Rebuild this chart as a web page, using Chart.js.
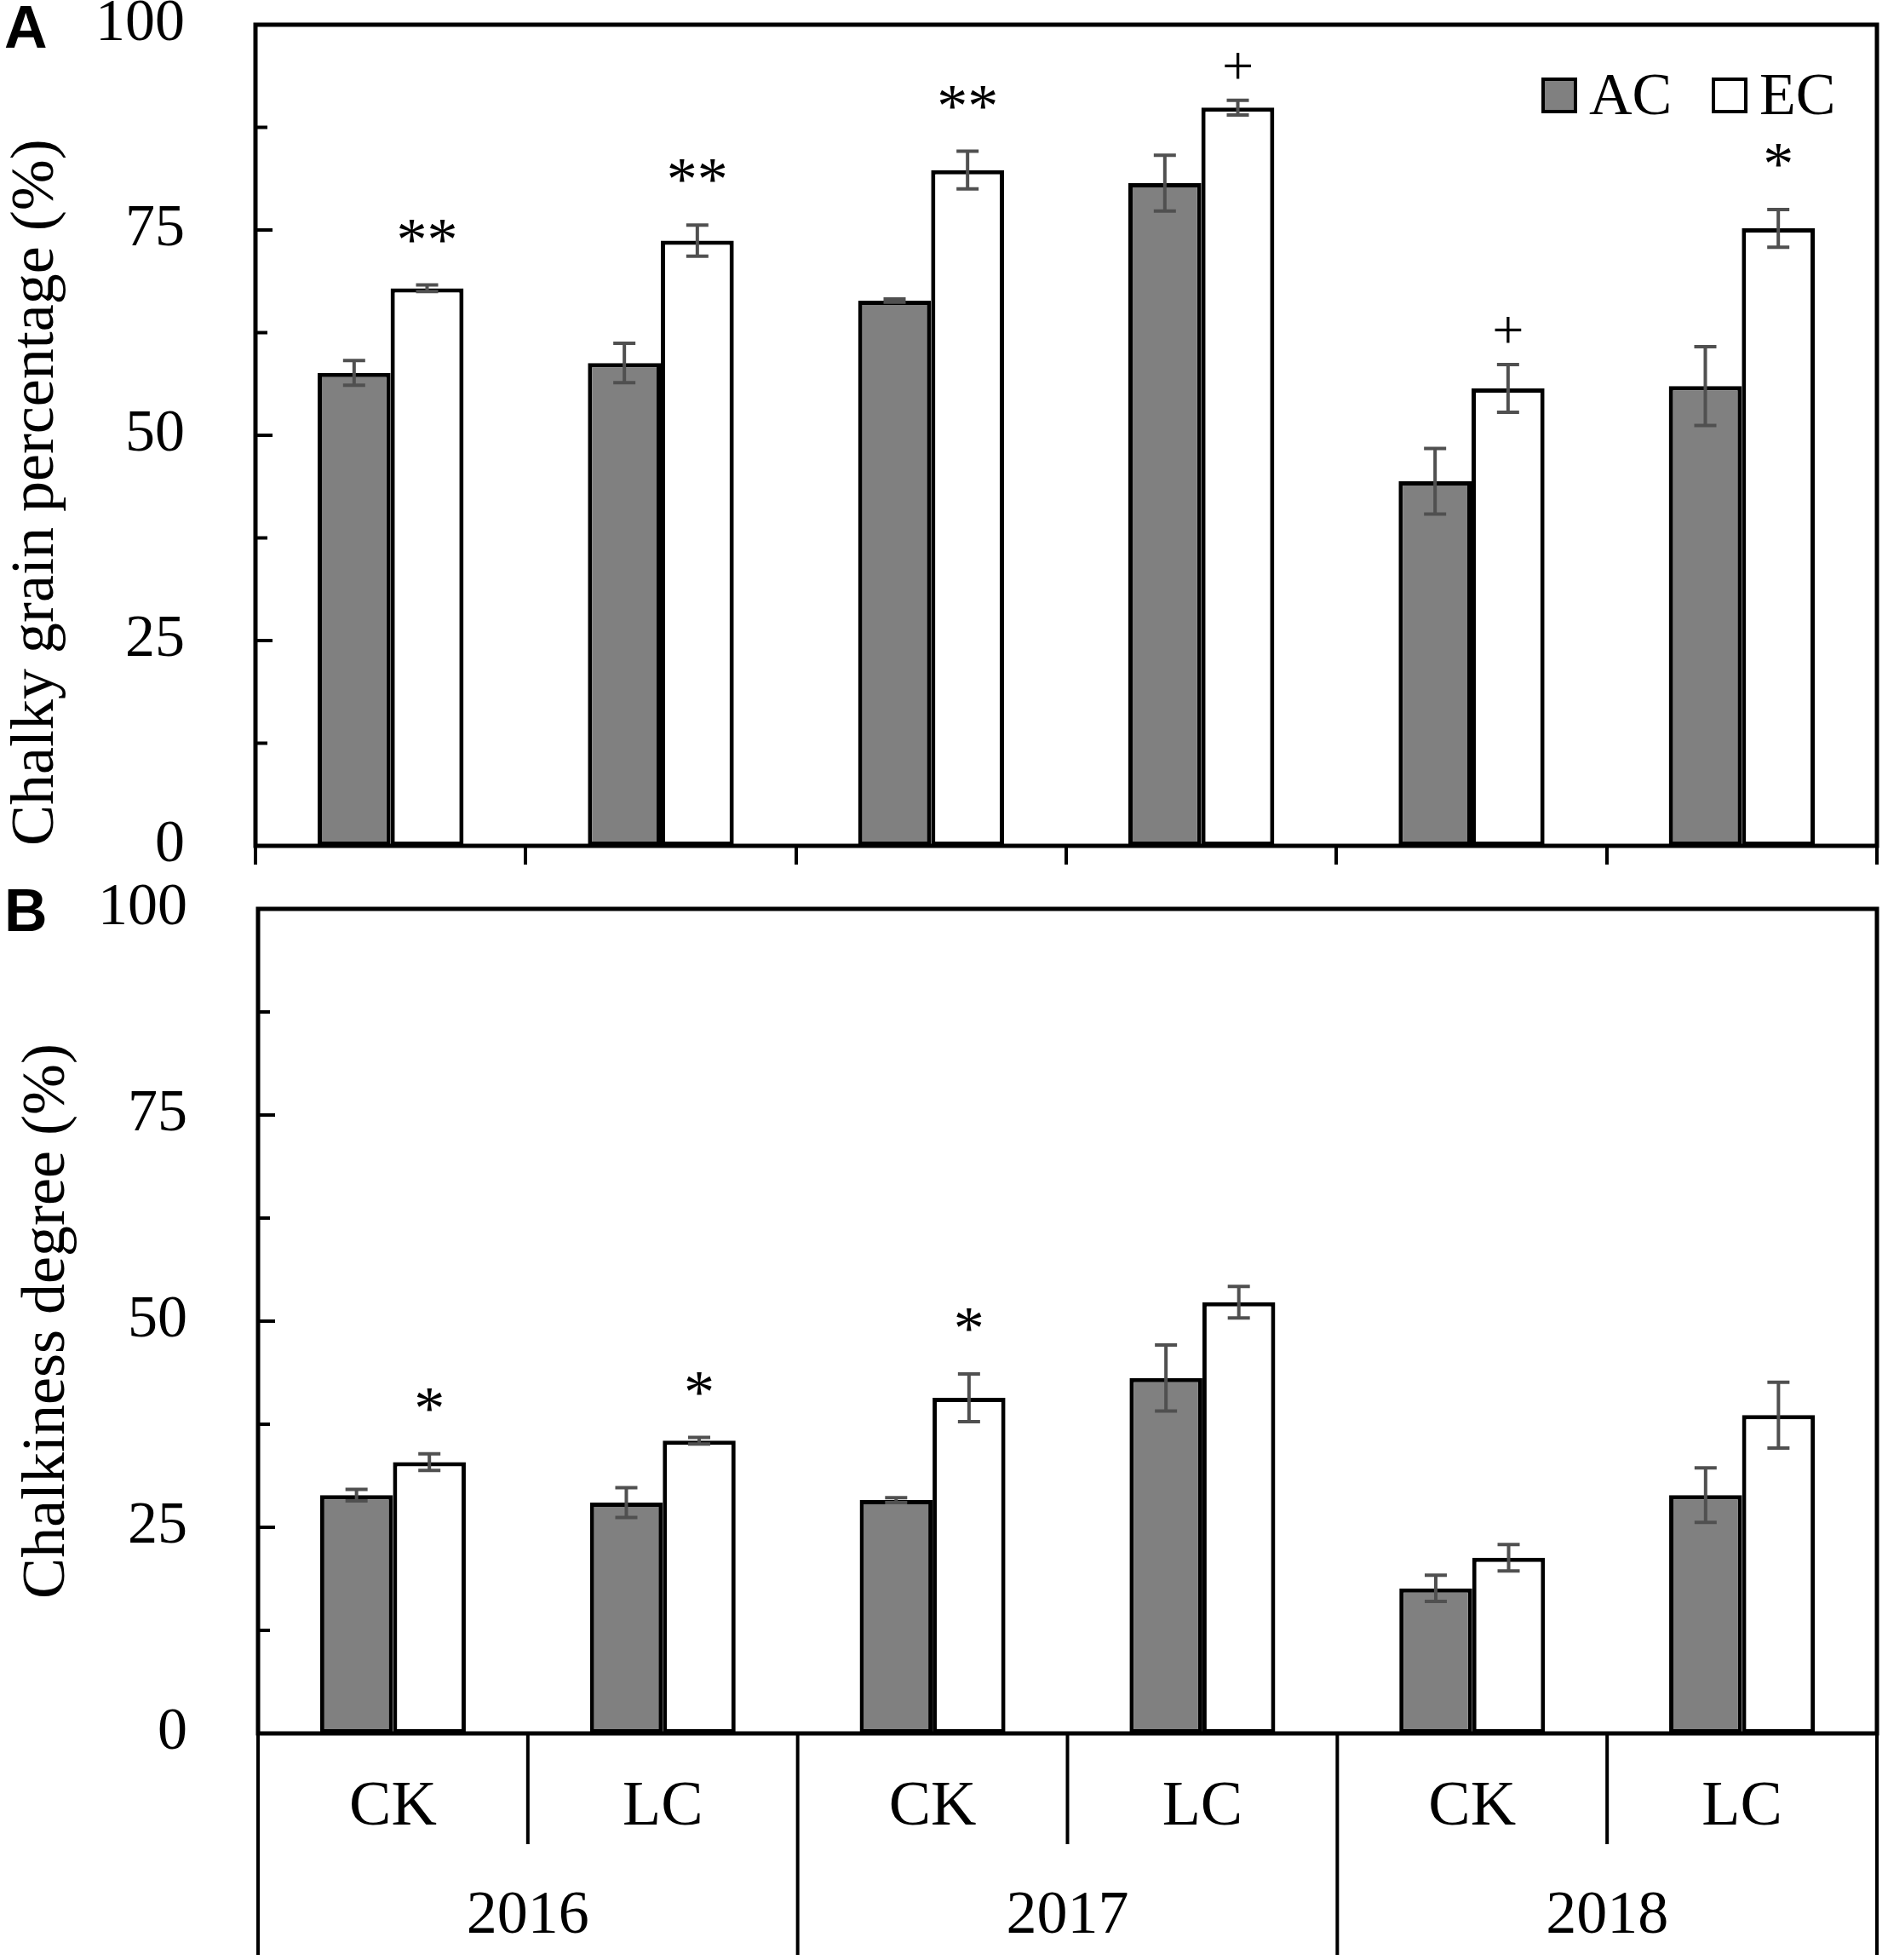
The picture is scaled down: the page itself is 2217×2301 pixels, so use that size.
<!DOCTYPE html>
<html lang="en">
<head>
  <meta charset="UTF-8" />
  <title>Chalky grain percentage and chalkiness degree</title>
  <script src="https://cdn.jsdelivr.net/npm/chart.js"></script>
  <style>
    body { margin: 0; background: #fff; }
    canvas { position: absolute; left: 0; }
  </style>
</head>
<body>
  <canvas id="chartA" width="2217" height="1035" style="top:0"></canvas>
  <canvas id="chartB" width="2217" height="1266" style="top:1035px"></canvas>

  <script>
    // categories and groups
    const categories = ["CK", "LC", "CK", "LC", "CK", "LC"];
    const years = ["2016", "2017", "2018"];
    const seriesNames = ["AC", "EC"];

    // panel A: chalky grain percentage (%)
    const acA = [57.6, 58.8, 66.4, 80.7, 44.4, 56.0];
    const acAErr = [1.5, 2.4, 0.2, 3.4, 4.0, 4.8];
    const ecA = [67.9, 73.7, 82.3, 89.9, 55.7, 75.2];
    const ecAErr = [0.4, 1.9, 2.3, 0.9, 2.9, 2.3];
    const sigA = ["**", "**", "**", "+", "+", "*"];

    // panel B: chalkiness degree (%)
    const acB = [28.9, 28.0, 28.3, 43.1, 17.6, 28.9];
    const acBErr = [0.7, 1.8, 0.3, 4.0, 1.6, 3.3];
    const ecB = [32.9, 35.5, 40.7, 52.3, 21.3, 38.6];
    const ecBErr = [1.0, 0.4, 2.9, 1.9, 1.6, 4.0];
    const sigB = ["*", "*", "*", "", "", ""];

    const SERIF = "'Liberation Serif', 'Times New Roman', serif";
    const SANS = "'Liberation Sans', Arial, sans-serif";
    Chart.defaults.font.family = SERIF;
    Chart.defaults.color = "#000";

    // frame, inside ticks, error bars, significance marks, legend, letters
    const decorPlugin = {
      id: "decor",
      afterDatasetsDraw(chart, args, opts) {
        const ctx = chart.ctx;
        const area = chart.chartArea;
        const x = chart.scales.x;
        const y = chart.scales.y;
        ctx.save();

        // error bars
        ctx.strokeStyle = "#505050";
        ctx.lineWidth = 4;
        chart.data.datasets.forEach((ds, di) => {
          chart.getDatasetMeta(di).data.forEach((bar, i) => {
            const v = ds.data[i], e = ds.errors[i];
            const yt = y.getPixelForValue(v + e);
            const yb = y.getPixelForValue(v - e);
            ctx.beginPath();
            ctx.moveTo(bar.x, yt); ctx.lineTo(bar.x, yb);
            ctx.moveTo(bar.x - 13, yt); ctx.lineTo(bar.x + 13, yt);
            ctx.moveTo(bar.x - 13, yb); ctx.lineTo(bar.x + 13, yb);
            ctx.stroke();
          });
        });

        // significance marks above EC bars
        ctx.fillStyle = "#000";
        ctx.textAlign = "center";
        ctx.textBaseline = "alphabetic";
        const ec = chart.data.datasets[1];
        chart.getDatasetMeta(1).data.forEach((bar, i) => {
          const mark = opts.marks[i];
          if (!mark) return;
          const top = y.getPixelForValue(ec.data[i] + ec.errors[i]);
          const isPlus = mark === "+";
          const fs = isPlus ? 66 : 72;
          ctx.font = fs + "px " + SERIF;
          const cy = top - (isPlus ? 36 : 64);
          ctx.fillText(mark, bar.x, cy + (isPlus ? 0.256 : 0.475) * fs);
        });

        // plot frame
        ctx.strokeStyle = "#000";
        ctx.lineWidth = 5;
        ctx.strokeRect(area.left, area.top, area.right - area.left, area.bottom - area.top);

        // inside y ticks
        ctx.lineWidth = 4;
        y.ticks.forEach(t => {
          const py = y.getPixelForValue(t.value);
          const len = t.value % 25 === 0 ? 20 : 14;
          ctx.beginPath();
          ctx.moveTo(area.left, py); ctx.lineTo(area.left + len, py);
          ctx.stroke();
        });

        // grouped category box under panel B
        if (opts.box) {
          const half = (x.getPixelForValue(1) - x.getPixelForValue(0)) / 2;
          for (let i = 0; i <= categories.length; i++) {
            const bx = i === categories.length ? x.getPixelForValue(i - 1) + half : x.getPixelForValue(i) - half;
            ctx.beginPath();
            ctx.moveTo(bx, area.bottom);
            ctx.lineTo(bx, i % 2 === 0 ? opts.box.yearBottom : opts.box.pairBottom);
            ctx.stroke();
          }
          ctx.font = "72px " + SERIF;
          ctx.textBaseline = "middle";
          years.forEach((yr, k) => {
            const cx = (x.getPixelForValue(2 * k) + x.getPixelForValue(2 * k + 1)) / 2;
            ctx.fillText(yr, cx, opts.box.yearY);
          });
        }

        // legend
        if (opts.legend) {
          ctx.font = "70px " + SERIF;
          ctx.textAlign = "left";
          ctx.textBaseline = "alphabetic";
          opts.legend.forEach((item, k) => {
            const ds = chart.data.datasets[k];
            ctx.fillStyle = ds.backgroundColor;
            ctx.fillRect(item.x, 93, 38, 38);
            ctx.lineWidth = 4;
            ctx.strokeStyle = "#000";
            ctx.strokeRect(item.x, 93, 38, 38);
            ctx.fillStyle = "#000";
            ctx.fillText(ds.label, item.x + 54, 134);
          });
        }

        // panel letter
        ctx.font = "bold 70px " + SANS;
        ctx.textAlign = "left";
        ctx.textBaseline = "alphabetic";
        ctx.fillStyle = "#000";
        ctx.fillText(opts.letter, 5, opts.letterY);

        ctx.restore();
      }
    };

    function makeChart(id, cfg) {
      return new Chart(document.getElementById(id), {
        type: "bar",
        data: {
          labels: categories,
          datasets: [
            { label: seriesNames[0], data: cfg.ac, errors: cfg.acErr, backgroundColor: "#808080", borderColor: "#000", borderWidth: 5, borderSkipped: false },
            { label: seriesNames[1], data: cfg.ec, errors: cfg.ecErr, backgroundColor: "#ffffff", borderColor: "#000", borderWidth: 5, borderSkipped: false }
          ]
        },
        options: {
          responsive: false,
          animation: false,
          devicePixelRatio: 1,
          layout: { padding: { left: 0, top: cfg.padTop, right: 13, bottom: 0 } },
          datasets: { bar: { categoryPercentage: 0.54, barPercentage: 1 } },
          plugins: {
            legend: { display: false },
            tooltip: { enabled: false },
            decor: cfg.decor
          },
          scales: {
            x: {
              offset: true,
              grid: cfg.xGrid,
              border: { display: false },
              ticks: cfg.xTicks,
              afterFit: s => {
                s.height = cfg.xHeight;
                s.paddingLeft = 0;
                s.paddingRight = 0;
              }
            },
            y: {
              min: 0,
              max: 100,
              grid: { display: false, drawTicks: false },
              border: { display: false },
              ticks: {
                stepSize: 12.5,
                padding: 83,
                color: "#000",
                font: { size: 70 },
                callback: v => (v % 25 === 0 ? v : "")
              },
              title: {
                display: true,
                text: cfg.title,
                align: cfg.titleAlign,
                color: "#000",
                font: { size: 72 },
                padding: { top: cfg.titlePad, bottom: 0 }
              },
              afterFit: s => {
                s.width = cfg.yWidth;
                s.paddingTop = 0;
                s.paddingBottom = 0;
              }
            }
          }
        },
        plugins: [decorPlugin]
      });
    }

    makeChart("chartA", {
      ac: acA, acErr: acAErr, ec: ecA, ecErr: ecAErr,
      title: "Chalky grain percentage (%)",
      titleAlign: "start",
      titlePad: 0,
      padTop: 29,
      yWidth: 300,
      xHeight: 42,
      xGrid: { display: true, drawOnChartArea: false, drawTicks: true, tickLength: 22, lineWidth: 4, color: "#000" },
      xTicks: { display: false },
      decor: {
        marks: sigA,
        letter: "A", letterY: 56,
        legend: [{ x: 1812 }, { x: 2012 }]
      }
    });

    makeChart("chartB", {
      ac: acB, acErr: acBErr, ec: ecB, ecErr: ecBErr,
      title: "Chalkiness degree (%)",
      titleAlign: "center",
      titlePad: 13,
      padTop: 32,
      yWidth: 303,
      xHeight: 266,
      xGrid: { display: false, drawTicks: false },
      xTicks: { autoSkip: false, maxRotation: 0, padding: 43, color: "#000", font: { size: 74 } },
      decor: {
        marks: sigB,
        letter: "B", letterY: 58,
        box: { pairBottom: 1130, yearBottom: 1260, yearY: 1215 }
      }
    });
  </script>
</body>
</html>
